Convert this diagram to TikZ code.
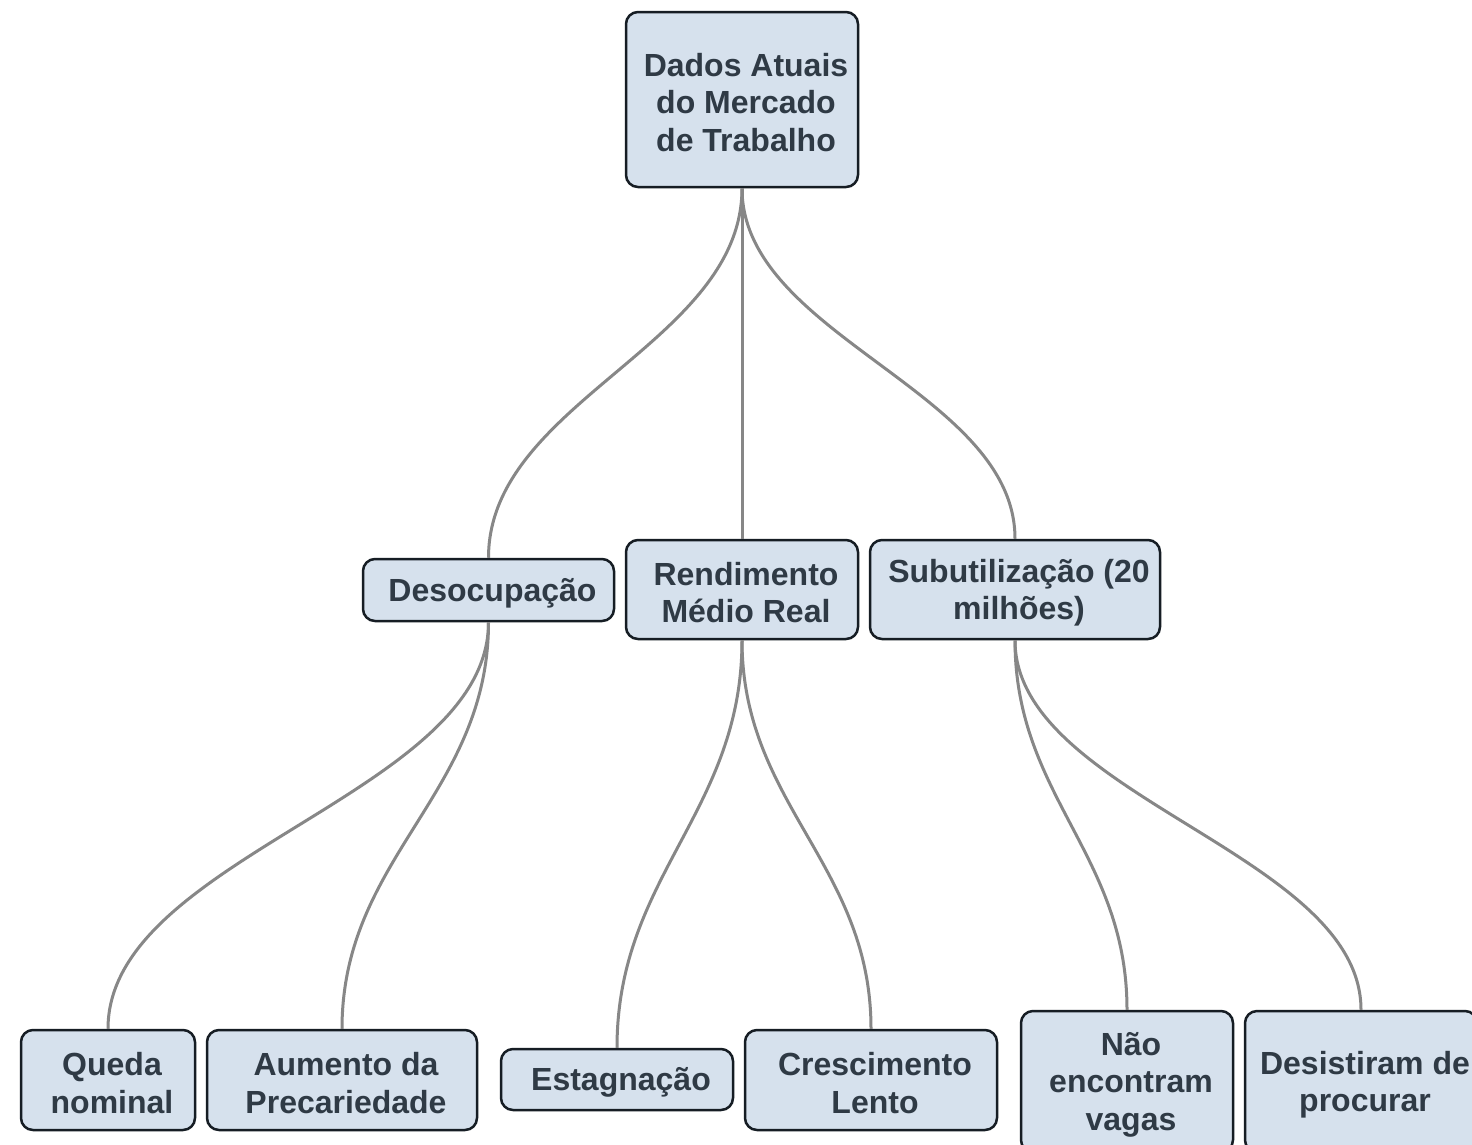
\documentclass[tikz,border=0pt]{standalone}
\usepackage{fontspec}
\setmainfont{Liberation Sans}
\definecolor{boxfill}{HTML}{D6E1ED}
\definecolor{boxline}{HTML}{161D24}
\definecolor{txt}{HTML}{2F3A45}
\definecolor{edge}{HTML}{878787}
\begin{document}
\begin{tikzpicture}[x=1pt,y=-1pt,
  box/.style={draw=boxline, fill=boxfill, line width=2.5pt, rounded corners=12pt,
    inner sep=0pt},
  boxtext/.style={inner sep=0pt, align=center, text=txt, xshift=4pt, yshift=-3pt,
    font=\fontsize{32}{37.5}\selectfont\bfseries},
  link/.style={draw=edge, line width=3pt}]
\clip (0,0) rectangle (1472,1144);
\fill[white] (0,0) rectangle (1472,1144);
\node[box, minimum width=232pt, minimum height=175pt,
  label={[boxtext]center:{Dados Atuais\\do Mercado\\de Trabalho}}] (root) at (742,99.5) {};
\node[box, minimum width=251pt, minimum height=62pt,
  label={[boxtext]center:{Desocupação}}] (des) at (488.5,590) {};
\node[box, minimum width=232pt, minimum height=99pt,
  label={[boxtext]center:{Rendimento\\Médio Real}}] (ren) at (742,589.5) {};
\node[box, minimum width=290pt, minimum height=99pt,
  label={[boxtext]center:{Subutilização (20\\milhões)}}] (sub) at (1015,589.5) {};
\node[box, minimum width=174pt, minimum height=100pt,
  label={[boxtext]center:{Queda\\nominal}}] (que) at (108,1080) {};
\node[box, minimum width=270pt, minimum height=100pt,
  label={[boxtext]center:{Aumento da\\Precariedade}}] (aum) at (342,1080) {};
\node[box, minimum width=232pt, minimum height=61pt,
  label={[boxtext]center:{Estagnação}}] (est) at (617,1079.5) {};
\node[box, minimum width=252pt, minimum height=100pt,
  label={[boxtext]center:{Crescimento\\Lento}}] (cre) at (871,1080) {};
\node[box, minimum width=212pt, minimum height=141pt,
  label={[boxtext]center:{Não\\encontram\\vagas}}] (nao) at (1127,1081.5) {};
\node[box, minimum width=232pt, minimum height=141pt,
  label={[boxtext]center:{Desistiram de\\procurar}}] (desi) at (1361,1081.5) {};
\path[link] (root.south) .. controls +(0,156) and +(0,-156) .. (des.north);
\path[link] (root.south) -- (ren.north);
\path[link] (root.south) .. controls +(0,148) and +(0,-148) .. (sub.north);
\path[link] (des.south) .. controls +(0,172) and +(0,-172) .. (que.north);
\path[link] (des.south) .. controls +(0,172) and +(0,-172) .. (aum.north);
\path[link] (ren.south) .. controls +(0,172) and +(0,-172) .. (est.north);
\path[link] (ren.south) .. controls +(0,164) and +(0,-164) .. (cre.north);
\path[link] (sub.south) .. controls +(0,156) and +(0,-156) .. (nao.north);
\path[link] (sub.south) .. controls +(0,156) and +(0,-156) .. (desi.north);
\end{tikzpicture}
\end{document}
